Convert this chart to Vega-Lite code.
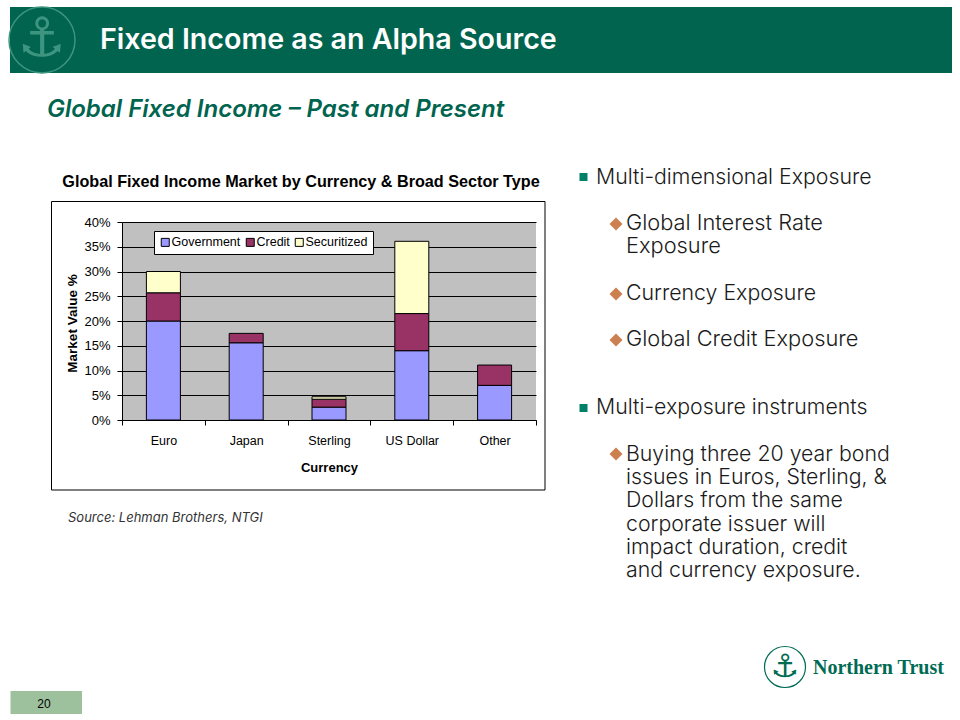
{
  "$schema": "https://vega.github.io/schema/vega-lite/v6.json",
  "autosize": "none",
  "width": 414,
  "height": 198,
  "padding": {"left": 122, "top": 222, "right": 424, "bottom": 300},
  "background": "#ffffff",
  "title": {"text": "Global Fixed Income Market by Currency & Broad Sector Type", "font": "Liberation Sans", "fontSize": 16.2, "fontWeight": "bold", "color": "#000000", "anchor": "middle", "dx": -28, "offset": -186},
  "config": {"view": {"fill": "#C0C0C0", "stroke": null}, "text": {"baseline": "alphabetic"}},
  "layer": [
    {"data": {"values": [{}]}, "mark": {"type": "rect", "x": -112, "x2": 830, "y": -215, "y2": -149, "fill": "#00644F"}},
    {"data": {"values": [{}]}, "mark": {"type": "point", "shape": "circle", "size": 4356, "x": -80, "y": -182, "filled": false, "stroke": "#3D9580", "strokeWidth": 1.5, "opacity": 1}},
    {"data": {"values": [{}]}, "mark": {"type": "text", "text": "⚓", "font": "DejaVu Sans", "fontSize": 54, "x": -80, "y": -182, "align": "center", "baseline": "middle", "fill": "#3D9580"}},
    {"data": {"values": [{}]}, "mark": {"type": "text", "text": "Fixed Income as an Alpha Source", "font": "Inter", "fontWeight": 600, "fontSize": 28.6, "x": -22, "y": -173, "align": "left", "fill": "#ffffff"}},
    {"data": {"values": [{}]}, "mark": {"type": "text", "text": "Global Fixed Income – Past and Present", "font": "Inter", "fontWeight": 600, "fontStyle": "italic", "fontSize": 24, "x": -75, "y": -105, "align": "left", "fill": "#00644F"}},
    {"data": {"values": [{}]}, "mark": {"type": "rect", "x": -70.5, "x2": 423, "y": -20.5, "y2": 268, "fillOpacity": 0, "stroke": "#000000", "strokeWidth": 1}},
    {"data": {"values": [{}]}, "mark": {"type": "text", "text": "Source: Lehman Brothers, NTGI", "font": "Inter", "fontStyle": "italic", "fontSize": 13, "x": -54, "y": 300, "align": "left", "fill": "#333333"}},
    {"data": {"values": [{}]}, "mark": {"type": "point", "shape": "square", "size": 64, "x": 461.5, "y": -45, "filled": true, "fill": "#008066", "opacity": 1}},
    {"data": {"values": [{}]}, "mark": {"type": "point", "shape": "square", "size": 64, "x": 461.5, "y": 186, "filled": true, "fill": "#008066", "opacity": 1}},
    {"data": {"values": [{}]}, "mark": {"type": "point", "shape": "diamond", "size": 169, "x": 494, "y": 2, "filled": true, "fill": "#CC8050", "opacity": 1}},
    {"data": {"values": [{}]}, "mark": {"type": "point", "shape": "diamond", "size": 169, "x": 494, "y": 72, "filled": true, "fill": "#CC8050", "opacity": 1}},
    {"data": {"values": [{}]}, "mark": {"type": "point", "shape": "diamond", "size": 169, "x": 494, "y": 118, "filled": true, "fill": "#CC8050", "opacity": 1}},
    {"data": {"values": [{}]}, "mark": {"type": "point", "shape": "diamond", "size": 169, "x": 494, "y": 232, "filled": true, "fill": "#CC8050", "opacity": 1}},
    {"data": {"values": [{}]}, "mark": {"type": "text", "text": "Multi-dimensional Exposure", "font": "Inter", "fontWeight": 300, "fontSize": 21.3, "x": 474, "y": -38, "align": "left", "fill": "#1a1a1a"}},
    {"data": {"values": [{}]}, "mark": {"type": "text", "text": "Multi-exposure instruments", "font": "Inter", "fontWeight": 300, "fontSize": 21.3, "x": 474, "y": 192, "align": "left", "fill": "#1a1a1a"}},
    {"data": {"values": [{}]}, "mark": {"type": "text", "text": ["Global Interest Rate", "Exposure"], "lineHeight": 23.4, "font": "Inter", "fontWeight": 300, "fontSize": 21.8, "x": 504, "y": 7.5, "align": "left", "fill": "#1a1a1a"}},
    {"data": {"values": [{}]}, "mark": {"type": "text", "text": "Currency Exposure", "font": "Inter", "fontWeight": 300, "fontSize": 21.3, "x": 504, "y": 77.5, "align": "left", "fill": "#1a1a1a"}},
    {"data": {"values": [{}]}, "mark": {"type": "text", "text": "Global Credit Exposure", "font": "Inter", "fontWeight": 300, "fontSize": 21.8, "x": 504, "y": 123.5, "align": "left", "fill": "#1a1a1a"}},
    {"data": {"values": [{}]}, "mark": {"type": "text", "text": ["Buying three 20 year bond", "issues in Euros, Sterling, &", "Dollars from the same", "corporate issuer will", "impact duration, credit", "and currency exposure."], "lineHeight": 23.2, "font": "Inter", "fontWeight": 300, "fontSize": 21.3, "x": 504, "y": 239, "align": "left", "fill": "#1a1a1a"}},
    {"data": {"values": [{}]}, "mark": {"type": "rect", "x": -111.5, "x2": -40, "y": 469, "y2": 492, "fill": "#9DC19D"}},
    {"data": {"values": [{}]}, "mark": {"type": "text", "text": "20", "font": "Liberation Sans", "fontSize": 12, "x": -78, "y": 486, "align": "center", "fill": "#000000"}},
    {"data": {"values": [{}]}, "mark": {"type": "point", "shape": "circle", "size": 1681, "x": 663, "y": 445, "filled": false, "stroke": "#006B54", "strokeWidth": 1.2, "opacity": 1}},
    {"data": {"values": [{}]}, "mark": {"type": "text", "text": "⚓", "font": "DejaVu Sans", "fontSize": 32, "x": 663, "y": 445, "align": "center", "baseline": "middle", "fill": "#006B54"}},
    {"data": {"values": [{}]}, "mark": {"type": "text", "text": "Northern Trust", "font": "Liberation Serif", "fontWeight": "bold", "fontSize": 20, "x": 691, "y": 452, "align": "left", "fill": "#006B54"}},
    {
      "data": {"values": [
        {"currency": "Euro", "sector": "Government", "seq": 1, "value": 0.20},
        {"currency": "Euro", "sector": "Credit", "seq": 2, "value": 0.057},
        {"currency": "Euro", "sector": "Securitized", "seq": 3, "value": 0.043},
        {"currency": "Japan", "sector": "Government", "seq": 1, "value": 0.156},
        {"currency": "Japan", "sector": "Credit", "seq": 2, "value": 0.019},
        {"currency": "Sterling", "sector": "Government", "seq": 1, "value": 0.026},
        {"currency": "Sterling", "sector": "Credit", "seq": 2, "value": 0.016},
        {"currency": "Sterling", "sector": "Securitized", "seq": 3, "value": 0.005},
        {"currency": "US Dollar", "sector": "Government", "seq": 1, "value": 0.14},
        {"currency": "US Dollar", "sector": "Credit", "seq": 2, "value": 0.075},
        {"currency": "US Dollar", "sector": "Securitized", "seq": 3, "value": 0.146},
        {"currency": "Other", "sector": "Government", "seq": 1, "value": 0.07},
        {"currency": "Other", "sector": "Credit", "seq": 2, "value": 0.041}
      ]},
      "mark": {"type": "bar", "width": 34, "stroke": "#000000", "strokeWidth": 1},
      "encoding": {
        "x": {
          "field": "currency", "type": "nominal",
          "sort": ["Euro", "Japan", "Sterling", "US Dollar", "Other"],
          "scale": {"paddingInner": 0, "paddingOuter": 0},
          "axis": {"title": "Currency", "labelAngle": 0, "labelFont": "Liberation Sans", "labelFontSize": 12.5, "labelColor": "#000000", "labelPadding": 9, "tickBand": "extent", "tickSize": 5, "tickColor": "#000000", "domainColor": "#000000", "titleFont": "Liberation Sans", "titleFontSize": 13, "titleFontWeight": "bold", "titleColor": "#000000", "titleY": 51, "titleBaseline": "alphabetic"}
        },
        "y": {
          "field": "value", "type": "quantitative", "stack": "zero",
          "scale": {"domain": [0, 0.4], "nice": false},
          "axis": {"title": "Market Value %", "values": [0, 0.05, 0.1, 0.15, 0.2, 0.25, 0.3, 0.35, 0.4], "format": ".0%", "labelFont": "Liberation Sans", "labelFontSize": 13, "labelColor": "#000000", "labelPadding": 7, "tickSize": 5, "tickColor": "#000000", "domainColor": "#000000", "grid": true, "gridColor": "#000000", "gridOpacity": 1, "titleFont": "Liberation Sans", "titleFontSize": 13.5, "titleFontWeight": "bold", "titleColor": "#000000", "titleX": -43, "titleY": 101}
        },
        "color": {
          "field": "sector", "type": "nominal",
          "scale": {"domain": ["Government", "Credit", "Securitized"], "range": ["#9999FF", "#993366", "#FFFFCC"]},
          "legend": {"title": null, "orient": "none", "legendX": 32, "legendY": 9, "direction": "horizontal", "fillColor": "#ffffff", "strokeColor": "#000000", "padding": 5, "symbolType": "square", "symbolSize": 64, "symbolStrokeColor": "#000000", "symbolStrokeWidth": 1, "symbolOpacity": 1, "labelFont": "Liberation Sans", "labelFontSize": 12.5, "labelColor": "#000000", "labelOffset": 0, "columnPadding": 3}
        },
        "order": {"field": "seq", "type": "quantitative"}
      }
    }
  ]
}
